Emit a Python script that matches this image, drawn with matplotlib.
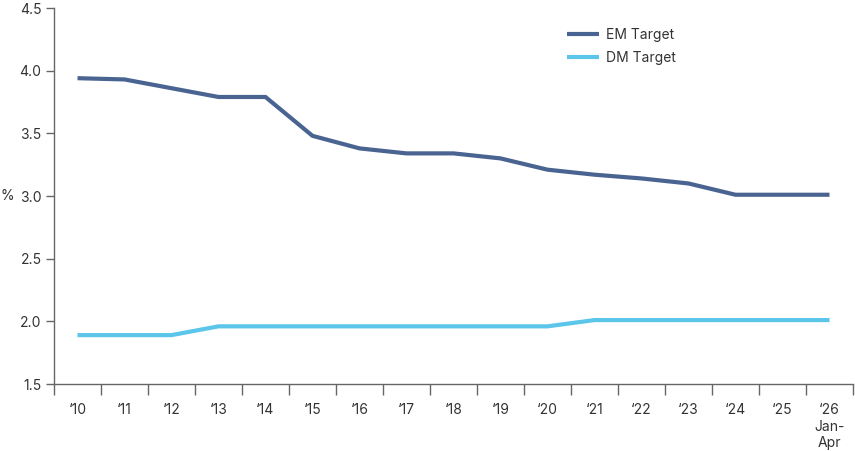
import numpy as np
import matplotlib as mpl
mpl.use('Agg')
from matplotlib import pyplot as plt

years = ["\u201810", "\u201811", "\u201812", "\u201813", "\u201814", "\u201815", "\u201816", "\u201817",
         "\u201818", "\u201819", "\u201820", "\u201821", "\u201822", "\u201823", "\u201824", "\u201825",
         "\u201826\nJan-\nApr"]
em_target = [3.94, 3.93, 3.86, 3.79, 3.79, 3.48, 3.38, 3.34, 3.34, 3.30, 3.21, 3.17, 3.14, 3.10, 3.01, 3.01, 3.01]
dm_target = [1.89, 1.89, 1.89, 1.96, 1.96, 1.96, 1.96, 1.96, 1.96, 1.96, 1.96, 2.01, 2.01, 2.01, 2.01, 2.01, 2.01]

plt.rcParams['font.family'] = ['Inter', 'DejaVu Sans']
txt = '#333333'
axc = '#666666'

fig = plt.figure(figsize=(8.55, 4.51), dpi=100)
ax = fig.add_axes([54/855, 1 - 384/451, 799/855, 376/451])

x = np.arange(len(years))
ax.plot(x, em_target, color='#4a6491', lw=3, label='EM Target', solid_capstyle='butt')
ax.plot(x, dm_target, color='#5bc5ea', lw=3, label='DM Target', solid_capstyle='butt')

ax.set_xlim(-0.5, len(years) - 0.5)
ax.set_ylim(1.5, 4.5)
ax.set_yticks(np.arange(1.5, 4.51, 0.5))
ax.set_yticklabels(['%.1f' % v for v in np.arange(1.5, 4.51, 0.5)])

# boundaries get tick marks, centres get labels
ax.set_xticks(np.arange(-0.5, len(years), 1.0))
ax.set_xticklabels([])
ax.set_xticks(x, minor=True)
ax.set_xticklabels(years, minor=True, va='top', linespacing=1.2)
ax.tick_params(axis='x', which='major', length=8, width=1, color=axc)
ax.tick_params(axis='x', which='minor', length=0, pad=14, labelsize=10, labelcolor=txt)
ax.tick_params(axis='y', length=6, width=1, color=axc, labelsize=10, labelcolor=txt, pad=3)

for s in ['top', 'right']:
    ax.spines[s].set_visible(False)
for s in ['left', 'bottom']:
    ax.spines[s].set_color(axc)
    ax.spines[s].set_linewidth(1)

fig.text(0.5/855, 1 - 196/451, '%', fontsize=10, color=txt, ha='left', va='center')

ax.legend(loc='upper left', bbox_to_anchor=(0.627, 0.98), frameon=False, fontsize=10,
          labelcolor=txt, handlelength=2.3, handletextpad=0.5, labelspacing=0.65)

plt.savefig('out.png', dpi=100)
plt.close()
